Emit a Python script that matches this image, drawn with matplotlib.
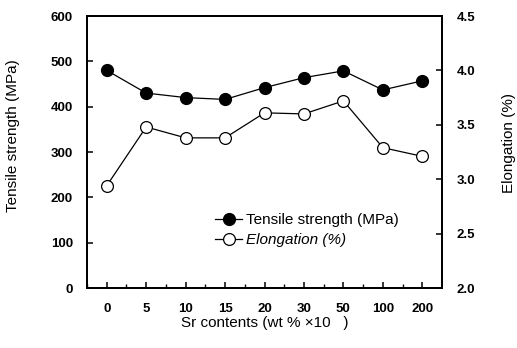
import matplotlib.pyplot as plt
import numpy as np

# datos
sr_labels = ['0', '5', '10', '15', '20', '30', '50', '100', '200']
tensile = [480, 430, 420, 416, 442, 464, 479, 437, 457]
elongation = [2.94, 3.48, 3.38, 3.38, 3.61, 3.60, 3.72, 3.29, 3.21]

plt.rcParams['font.family'] = ['Liberation Sans', 'DejaVu Sans']

fig = plt.figure(figsize=(5.17, 3.48), dpi=100)
ax = fig.add_axes([0.1683, 0.1724, 0.6867, 0.7816])
ax2 = ax.twinx()

x = np.arange(len(sr_labels))

l1, = ax.plot(x, tensile, color='black', lw=0.9, marker='o', ms=8.5,
              mfc='black', mec='black', label='Tensile strength (MPa)')
l2, = ax2.plot(x, elongation, color='black', lw=0.9, marker='o', ms=8.5,
               mfc='white', mec='black', mew=0.9, label='Elongation (%)')

ax.set_xlim(-0.5, 8.5)
ax.set_ylim(0, 600)
ax2.set_ylim(2.0, 4.5)

ax.set_xticks(x)
ax.set_xticklabels(sr_labels)
ax.set_xticks(np.arange(-0.5, 8.5, 0.5), minor=True)
ax.set_yticks(range(0, 601, 100))
ax2.set_yticks([2.0, 2.5, 3.0, 3.5, 4.0, 4.5])
ax2.set_yticklabels(['2.0', '2.5', '3.0', '3.5', '4.0', '4.5'])

for a in (ax, ax2):
    for s in a.spines.values():
        s.set_linewidth(1.3)
    a.tick_params(direction='in', length=4, width=1.1, labelsize=9.5)
    a.tick_params(which='minor', direction='in', length=3, width=1.0)
    for t in a.get_xticklabels() + a.get_yticklabels():
        t.set_fontweight('bold')

ax.tick_params(axis='x', pad=10.5)
ax.tick_params(axis='y', pad=10)
ax2.tick_params(axis='y', pad=10.5)

fig.text(0.025, 0.61, 'Tensile strength (MPa)', rotation=90,
         ha='center', va='center', fontsize=11)
fig.text(0.985, 0.59, 'Elongation (%)', rotation=90,
         ha='center', va='center', fontsize=11)
fig.text(0.513, 0.072, 'Sr contents (wt % \u00d710   )', ha='center',
         va='center', fontsize=11)

leg = ax.legend(handles=[l1, l2], loc='upper left',
                bbox_to_anchor=(0.36, 0.275), frameon=False, fontsize=11,
                handlelength=1.8, handletextpad=0.25, labelspacing=0.4,
                borderpad=0, borderaxespad=0)
leg.get_texts()[1].set_style('italic')

fig.savefig('out.png', dpi=100)
